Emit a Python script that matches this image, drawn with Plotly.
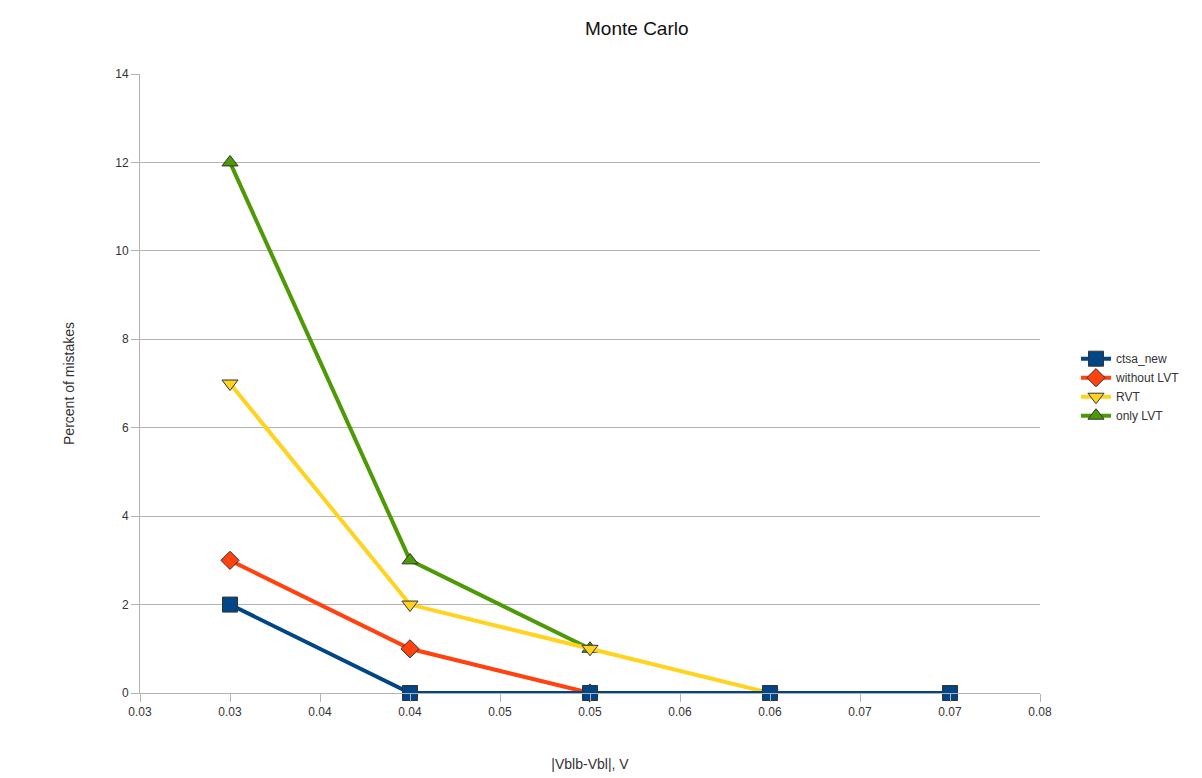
import plotly.graph_objects as go

x_vals = [0.03, 0.04, 0.05, 0.06, 0.07]
ctsa_new = [2, 0, 0, 0, 0]
without_lvt = [3, 1, 0]
rvt = [7, 2, 1, 0]
only_lvt = [12, 3, 1]

x_tickvals = [0.025, 0.03, 0.035, 0.04, 0.045, 0.05, 0.055, 0.06, 0.065, 0.07, 0.075]
x_ticktext = ["0.03", "0.03", "0.04", "0.04", "0.05", "0.05", "0.06", "0.06", "0.07", "0.07", "0.08"]

font = "Liberation Sans Narrow, Liberation Sans, Arial, sans-serif"

series = [
    ("only LVT", only_lvt, "#4e9a06", "triangle-up", 4, 14),
    ("RVT", rvt, "#ffd320", "triangle-down", 3, 14),
    ("without LVT", without_lvt, "#ff420e", "diamond", 2, 14),
    ("ctsa_new", ctsa_new, "#004586", "square", 1, 15),
]

fig = go.Figure()
for name, ys, color, sym, rank, msize in series:
    fig.add_trace(go.Scatter(
        x=x_vals[:len(ys)], y=ys, name=name, mode="lines+markers",
        line=dict(color=color, width=4),
        marker=dict(symbol=sym, size=msize, color=color, line=dict(color="#333333", width=1)),
        legendrank=rank, cliponaxis=False,
    ))

fig.update_layout(
    width=1202, height=778,
    paper_bgcolor="white", plot_bgcolor="white",
    margin=dict(l=132, r=170, t=66, b=93),
    font=dict(family=font, size=12, color="#333333"),
    title=dict(text="Monte Carlo", x=0.552, xref="paper", xanchor="center", y=0.974, yanchor="middle",
               font=dict(family="Liberation Sans, Arial, sans-serif", size=19, color="#111111")),
    legend=dict(x=1.04, xanchor="left", y=0.494, yanchor="middle", traceorder="normal",
                font=dict(size=12, color="#333333"), itemwidth=30, tracegroupgap=0),
    showlegend=True,
)
fig.update_xaxes(
    range=[0.025, 0.075], tickmode="array", tickvals=x_tickvals, ticktext=x_ticktext,
    showgrid=False, showline=True, linecolor="#b3b3b3", linewidth=1,
    ticks="outside", ticklen=8, tickcolor="#b3b3b3",
    zeroline=False, automargin=False,
    title=dict(text="|Vblb-Vbl|, V", font=dict(size=14, color="#333333"), standoff=40),
)
fig.update_yaxes(
    range=[0, 14], tickmode="linear", tick0=0, dtick=2,
    showgrid=True, gridcolor="#b3b3b3", gridwidth=1,
    showline=True, linecolor="#b3b3b3", linewidth=1,
    ticks="outside", ticklen=8, tickcolor="#b3b3b3",
    zeroline=False, automargin=False,
    title=dict(text="Percent of mistakes", font=dict(size=14, color="#333333"), standoff=37),
)

fig.write_html("out.html")
